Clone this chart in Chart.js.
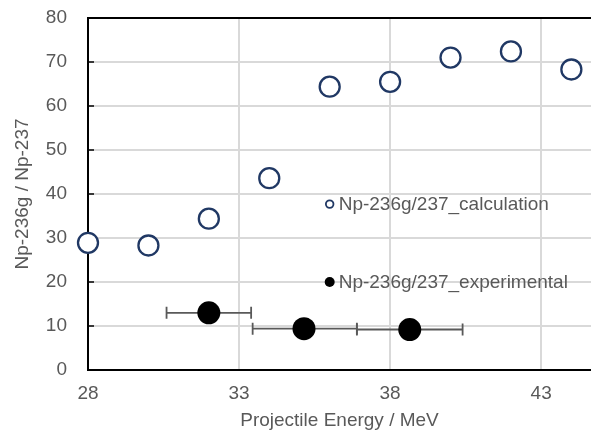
<!DOCTYPE html>
<html>
<head>
<meta charset="utf-8">
<script src="https://cdn.jsdelivr.net/npm/chart.js@4.4.1/dist/chart.umd.min.js"></script>
<style>
html,body{margin:0;padding:0;background:#fff;}
#wrap{width:591px;height:432px;position:relative;}
</style>
</head>
<body>
<div id="wrap"><canvas id="c" width="591" height="432"></canvas></div>
<script>
// ---- data ----
const calcEnergy = [28, 30, 32, 34, 36, 38, 40, 42, 44];
const calcRatio  = [28.9, 28.3, 34.4, 43.6, 64.4, 65.5, 71.0, 72.4, 68.3];
const expEnergy  = [32.0, 35.15, 38.65];
const expRatio   = [13.0, 9.4, 9.2];
const expErrLow  = [30.6, 33.45, 36.9];
const expErrHigh = [33.4, 36.9, 40.4];
const xTickValues = [28, 33, 38, 43];
const yTickValues = [0, 10, 20, 30, 40, 50, 60, 70, 80];
const seriesNames = ['Np-236g/237_calculation', 'Np-236g/237_experimental'];
const xTitle = 'Projectile Energy / MeV';
const yTitle = 'Np-236g / Np-237';

const FONT = "'Liberation Sans', Arial, sans-serif";
const FS = 19;
const TXT = '#595959';
const NAVY = '#203864';

const frame = {
  id: 'frame',
  beforeDatasetsDraw(chart) {
    const {ctx, chartArea: a, scales} = chart;
    ctx.save();
    ctx.strokeStyle = '#000';
    ctx.lineWidth = 2;
    ctx.beginPath();
    ctx.moveTo(chart.width + 5, a.top); ctx.lineTo(a.left, a.top);
    ctx.lineTo(a.left, a.bottom); ctx.lineTo(chart.width + 5, a.bottom);
    ctx.stroke();
    // inner tick marks on y axis
    ctx.lineWidth = 1.5;
    yTickValues.forEach(v => {
      const y = scales.y.getPixelForValue(v);
      ctx.beginPath(); ctx.moveTo(a.left, y); ctx.lineTo(a.left + 6, y); ctx.stroke();
    });
    // error bars
    ctx.strokeStyle = '#595959';
    ctx.lineWidth = 1.8;
    expEnergy.forEach((e, i) => {
      const y = scales.y.getPixelForValue(expRatio[i]);
      const x1 = scales.x.getPixelForValue(expErrLow[i]);
      const x2 = scales.x.getPixelForValue(expErrHigh[i]);
      ctx.beginPath();
      ctx.moveTo(x1, y); ctx.lineTo(x2, y);
      ctx.moveTo(x1, y - 6); ctx.lineTo(x1, y + 6);
      ctx.moveTo(x2, y - 6); ctx.lineTo(x2, y + 6);
      ctx.stroke();
    });
    ctx.restore();
  },
  afterDatasetsDraw(chart) {
    const {ctx, scales} = chart;
    const lx = scales.x.getPixelForValue(36.0);
    const rows = [
      {y: scales.y.getPixelForValue(37.7), hollow: true},
      {y: scales.y.getPixelForValue(20.0), hollow: false}
    ];
    ctx.save();
    ctx.font = FS + 'px ' + FONT;
    ctx.textBaseline = 'middle';
    ctx.textAlign = 'left';
    rows.forEach((r, i) => {
      ctx.beginPath();
      if (r.hollow) {
        ctx.arc(lx, r.y, 3.8, 0, Math.PI * 2);
        ctx.fillStyle = '#fff'; ctx.fill();
        ctx.strokeStyle = NAVY; ctx.lineWidth = 1.8; ctx.stroke();
      } else {
        ctx.arc(lx, r.y, 5, 0, Math.PI * 2);
        ctx.fillStyle = '#000'; ctx.fill();
      }
      ctx.fillStyle = TXT;
      ctx.fillText(seriesNames[i], lx + 9, r.y + 1);
    });
    ctx.restore();
  }
};

new Chart(document.getElementById('c'), {
  type: 'scatter',
  data: {
    datasets: [
      {
        label: seriesNames[0],
        data: calcEnergy.map((x, i) => ({x, y: calcRatio[i]})),
        pointRadius: 10, pointHoverRadius: 10,
        pointBorderWidth: 2.3, borderColor: NAVY, backgroundColor: '#fff',
        clip: false
      },
      {
        label: seriesNames[1],
        data: expEnergy.map((x, i) => ({x, y: expRatio[i]})),
        pointRadius: 11.5, pointHoverRadius: 11.5,
        pointBorderWidth: 0, borderColor: '#000', backgroundColor: '#000',
        clip: false
      }
    ]
  },
  options: {
    responsive: false,
    animation: false,
    events: [],
    layout: {padding: 0, autoPadding: false},
    plugins: {legend: {display: false}, tooltip: {enabled: false}},
    scales: {
      x: {
        type: 'linear', min: 28, max: 44.65,
        afterBuildTicks(s) { s.ticks = xTickValues.map(v => ({value: v})); },
        afterFit(s) { s.height = 62; s.paddingLeft = 0; s.paddingRight = 0; },
        grid: {color: '#d9d9d9', lineWidth: 2, drawTicks: true, tickLength: 12, tickColor: 'rgba(0,0,0,0)'},
        border: {display: false},
        ticks: {color: TXT, font: {family: FONT, size: FS}, padding: 0, maxRotation: 0,
                callback: v => String(v)},
        title: {display: true, text: xTitle, color: TXT, font: {family: FONT, size: FS},
                padding: {top: 0, bottom: 0}}
      },
      y: {
        type: 'linear', min: 0, max: 80,
        afterBuildTicks(s) { s.ticks = yTickValues.map(v => ({value: v})); },
        afterFit(s) { s.width = 88; s.paddingTop = 18; s.paddingBottom = 0; },
        grid: {color: '#d9d9d9', lineWidth: 2, drawTicks: false},
        border: {display: false},
        ticks: {color: TXT, font: {family: FONT, size: FS}, padding: 21,
                callback: v => String(v)},
        title: {display: true, text: yTitle, color: TXT, font: {family: FONT, size: FS},
                padding: {top: 11, bottom: 11}}
      }
    }
  },
  plugins: [frame]
});
</script>
</body>
</html>
